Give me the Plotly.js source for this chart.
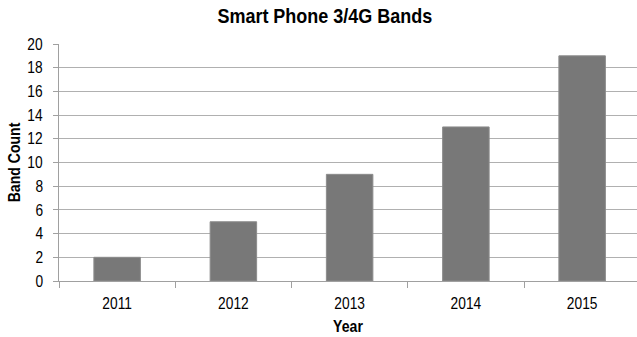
<!DOCTYPE html>
<html>
<head>
<meta charset="utf-8">
<script src="https://cdn.plot.ly/plotly-3.0.1.min.js"></script>
<style>html,body{margin:0;padding:0;background:#fff;}#chart{width:637px;height:337px;}</style>
</head>
<body>
<div id="chart"></div>
<script>
var years = ['2011', '2012', '2013', '2014', '2015'];
var bandCounts = [2, 5, 9, 13, 19];
var yTicks = [0, 2, 4, 6, 8, 10, 12, 14, 16, 18, 20];

var FONT = '"Liberation Sans", Arial, sans-serif';

var trace = {
  type: 'bar',
  x: years,
  y: bandCounts,
  marker: {color: '#787878', line: {color: '#8c8c8c', width: 1}},
  hoverinfo: 'none'
};

var layout = {
  width: 637,
  height: 337,
  margin: {l: 59, r: 0, t: 44, b: 56, pad: 0},
  paper_bgcolor: '#ffffff',
  plot_bgcolor: '#ffffff',
  bargap: 0.6,
  showlegend: false,
  font: {family: FONT, color: '#000000', size: 16},
  title: {
    text: '<b>Smart Phone 3/4G Bands</b>',
    font: {family: FONT, size: 20, color: '#000000'},
    x: 0.51, xanchor: 'center', y: 0.952, yanchor: 'middle'
  },
  xaxis: {
    type: 'category',
    range: [-0.5, 4.472],
    tickson: 'boundaries',
    ticks: 'outside',
    ticklen: 6,
    tickcolor: '#a0a0a0',
    ticklabelstandoff: 8,
    showline: true,
    linecolor: '#a0a0a0',
    linewidth: 1,
    showgrid: false,
    tickfont: {family: FONT, size: 16, color: '#000'},
    title: {text: '<b>Year</b>', font: {family: FONT, size: 16, color: '#000'}, standoff: 9}
  },
  yaxis: {
    range: [0, 20],
    tickvals: yTicks,
    ticktext: yTicks.map(String),
    ticks: 'outside',
    ticklen: 5,
    tickcolor: '#a0a0a0',
    ticklabelstandoff: 6,
    showline: true,
    linecolor: '#a0a0a0',
    linewidth: 1,
    showgrid: true,
    gridcolor: '#b0b0b0',
    gridwidth: 1,
    zeroline: false,
    tickfont: {family: FONT, size: 16, color: '#000'},
    title: {text: '<b>Band Count</b>', font: {family: FONT, size: 16, color: '#000'}, standoff: 1}
  }
};

// narrow the text horizontally (reference uses a condensed face)
function condense(sel, s) {
  document.querySelectorAll(sel).forEach(function (t) {
    var b = t.getBBox();
    var cx = b.x + b.width / 2;
    var prev = t.getAttribute('transform') || '';
    t.setAttribute('transform', prev + ' translate(' + cx + ',0) scale(' + s + ',1) translate(' + (-cx) + ',0)');
  });
}

Plotly.newPlot('chart', [trace], layout, {displayModeBar: false, staticPlot: true}).then(function () {
  condense('#chart .xtick text', 0.86);
  condense('#chart .ytick text', 0.86);
  condense('#chart .gtitle', 0.9);
  condense('#chart .xtitle', 0.88);
  condense('#chart .ytitle', 0.88);
});
</script>
</body>
</html>
